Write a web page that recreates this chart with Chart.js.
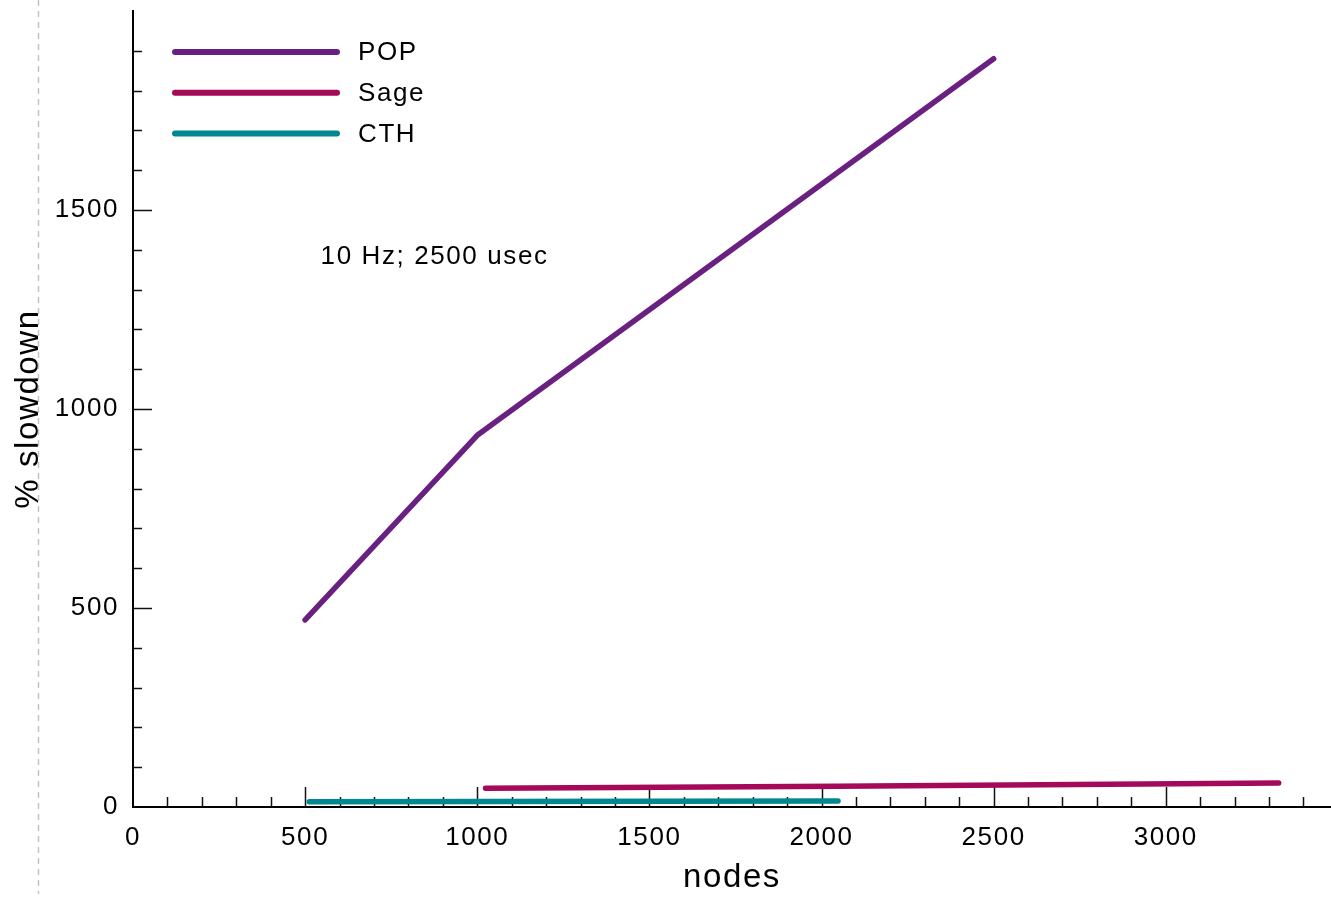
<!DOCTYPE html>
<html>
<head>
<meta charset="utf-8">
<title>% slowdown vs nodes</title>
<script src="https://cdn.jsdelivr.net/npm/chart.js@4/dist/chart.umd.min.js"></script>
<style>
    html, body { margin: 0; padding: 0; background: #fff; }
    #wrap { position: relative; width: 1331px; height: 898px; }
</style>
</head>
<body>
<div id="wrap"><canvas id="chart-slowdown"></canvas></div>
<script>
/* global Chart */
var seriesNames = [ 'POP', 'Sage', 'CTH' ];
var seriesColors = [ '#6a2080', '#a50a5a', '#00878f' ];

var popNodes  = [ 500, 1000, 2500 ];
var popSlow   = [ 470, 934, 1880 ];
var sageNodes = [ 1024, 2048, 3328 ];
var sageSlow  = [ 47, 52, 60 ];
var cthNodes  = [ 512, 1024, 2048 ];
var cthSlow   = [ 13, 14, 15 ];

var xTitle = 'nodes';
var yTitle = '% slowdown';
var noteText = '10 Hz; 2500 usec';
var noteAt = { x: 545, y: 1382 };

( function () {
    'use strict';

    if ( typeof Chart === 'undefined' ) {
        return;
    }

    var FONT = '"Liberation Sans", Arial, Helvetica, sans-serif';
    var SPACING = '1.6px';

    function toPoints( xs, ys ) {
        return xs.map( function ( x, i ) { return { x: x, y: ys[ i ] }; } );
    }

    var lineStyle = {
        borderWidth:     5.5,
        borderCapStyle:  'round',
        borderJoinStyle: 'round',
        pointRadius:     0,
        tension:         0,
        fill:            false,
    };

    var allSeries = [
        [ popNodes, popSlow ],
        [ sageNodes, sageSlow ],
        [ cthNodes, cthSlow ],
    ];

    var datasets = allSeries.map( function ( s, i ) {
        return Object.assign( {
            label:           seriesNames[ i ],
            data:            toPoints( s[ 0 ], s[ 1 ] ),
            borderColor:     seriesColors[ i ],
            backgroundColor: seriesColors[ i ],
        }, lineStyle );
    } );

    /* ── spacing of the type, the ticks inside the frame, legend, note ───── */
    var spacing = {
        id: 'spacing',
        beforeLayout: function ( chart ) { chart.ctx.letterSpacing = SPACING; },
        beforeDraw:   function ( chart ) { chart.ctx.letterSpacing = SPACING; },
    };

    var decor = {
        id: 'decor',
        beforeDatasetsDraw: function ( chart ) {
            var ctx = chart.ctx;
            var xs = chart.scales.x;
            var ys = chart.scales.y;
            var area = chart.chartArea;

            ctx.save();
            // dashed guide at the left edge
            ctx.strokeStyle = '#c4c4c4';
            ctx.lineWidth = 1.5;
            ctx.setLineDash( [ 6, 5 ] );
            ctx.beginPath();
            ctx.moveTo( 38.5, 0 );
            ctx.lineTo( 38.5, chart.height - 4 );
            ctx.stroke();
            ctx.setLineDash( [] );

            ctx.strokeStyle = '#111';
            ctx.lineWidth = 1.5;
            ctx.beginPath();
            xs.ticks.forEach( function ( t ) {
                if ( t.value <= 0 ) { return; }
                var px = Math.round( xs.getPixelForValue( t.value ) ) + 0.5;
                var len = t.value % 500 === 0 ? 20 : 10;
                ctx.moveTo( px, area.bottom );
                ctx.lineTo( px, area.bottom - len );
            } );
            ys.ticks.forEach( function ( t ) {
                if ( t.value <= 0 || t.value >= 2000 ) { return; }
                var py = Math.round( ys.getPixelForValue( t.value ) ) + 0.5;
                var len = t.value % 500 === 0 ? 19 : 9;
                ctx.moveTo( area.left, py );
                ctx.lineTo( area.left + len, py );
            } );
            ctx.stroke();
            ctx.restore();
        },
        afterDraw: function ( chart ) {
            var ctx = chart.ctx;
            var area = chart.chartArea;
            ctx.save();
            ctx.letterSpacing = SPACING;
            ctx.font = '26px ' + FONT;
            ctx.textBaseline = 'middle';
            ctx.textAlign = 'left';

            // legend
            chart.data.datasets.forEach( function ( ds, i ) {
                var y = area.top + 41 + i * 40.7;
                var x0 = area.left + 42;
                ctx.strokeStyle = ds.borderColor;
                ctx.lineWidth = 6;
                ctx.lineCap = 'round';
                ctx.beginPath();
                ctx.moveTo( x0, y );
                ctx.lineTo( x0 + 162, y );
                ctx.stroke();
                ctx.fillStyle = '#000';
                ctx.fillText( ds.label, x0 + 183, y + 1 );
            } );

            // annotation
            ctx.fillStyle = '#000';
            ctx.fillText( noteText,
                chart.scales.x.getPixelForValue( noteAt.x ),
                chart.scales.y.getPixelForValue( noteAt.y ) );
            ctx.restore();
        },
    };

    var tickFont = { family: FONT, size: 26 };
    var titleFont = { family: FONT, size: 33 };

    function noPad( scale ) {
        scale.paddingTop = 0;
        scale.paddingBottom = 0;
        scale.paddingLeft = 0;
        scale.paddingRight = 0;
    }

    new Chart( document.getElementById( 'chart-slowdown' ), {
        type: 'line',
        data: { datasets: datasets },
        options: {
            responsive:          true,
            maintainAspectRatio: false,
            animation:           false,
            layout: { padding: { top: 11, right: 0, bottom: 0, left: 0 } },
            plugins: {
                legend:  { display: false },
                tooltip: { enabled: false },
            },
            scales: {
                x: {
                    type: 'linear',
                    min:  0,
                    max:  3480,
                    grid:   { display: false, drawTicks: false },
                    border: { display: true, color: '#000', width: 2 },
                    ticks: {
                        stepSize:      100,
                        includeBounds: false,
                        autoSkip:      false,
                        maxRotation:   0,
                        padding:       15,
                        color:         '#000',
                        font:          tickFont,
                        callback: function ( v ) { return v % 500 === 0 ? String( v ) : ''; },
                    },
                    title: {
                        display: true,
                        text:    xTitle,
                        color:   '#000',
                        font:    titleFont,
                        padding: { top: 0, bottom: 0 },
                    },
                    afterFit: function ( scale ) { scale.height = 91; noPad( scale ); },
                },
                y: {
                    type: 'linear',
                    min:  0,
                    max:  2000,
                    grid:   { display: false, drawTicks: false },
                    border: { display: true, color: '#000', width: 2 },
                    ticks: {
                        stepSize: 100,
                        autoSkip: false,
                        padding:  14,
                        color:    '#000',
                        font:     tickFont,
                        callback: function ( v ) { return v % 500 === 0 && v < 2000 ? String( v ) : ''; },
                    },
                    title: {
                        display: true,
                        text:    yTitle,
                        color:   '#000',
                        font:    titleFont,
                        padding: { top: 9, bottom: 0 },
                    },
                    afterFit: function ( scale ) { scale.width = 133; noPad( scale ); },
                },
            },
        },
        plugins: [ spacing, decor ],
    } );
} )();
</script>
</body>
</html>
